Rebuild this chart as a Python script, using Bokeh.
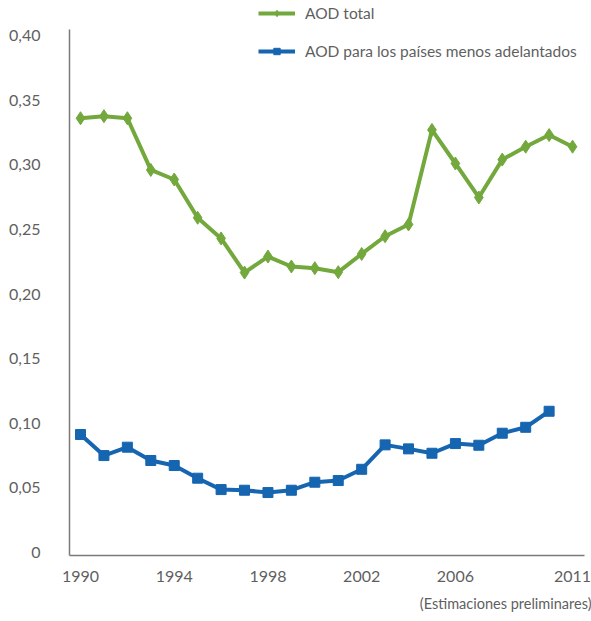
from bokeh.plotting import figure
from bokeh.models import (ColumnDataSource, FixedTicker, CustomJSTickFormatter,
                          Legend, LegendItem, Range1d, Title)
from bokeh.embed import file_html
from bokeh.resources import INLINE

years_total = list(range(1990, 2012))
aod_total = [0.336, 0.3376, 0.336, 0.296, 0.2886, 0.259, 0.243, 0.2166, 0.229, 0.2213,
             0.220, 0.2169, 0.231, 0.2447, 0.2538, 0.327, 0.301, 0.2747, 0.304, 0.314,
             0.323, 0.314]
years_pma = list(range(1990, 2011))
aod_pma = [0.0913, 0.075, 0.0815, 0.0712, 0.0673, 0.0575, 0.0487, 0.0482, 0.0464, 0.0482,
           0.0544, 0.0557, 0.0644, 0.0833, 0.0802, 0.0768, 0.0843, 0.083, 0.0923, 0.0969,
           0.1093]
x_ticks = [1990, 1994, 1998, 2002, 2006, 2011]
y_ticks = [0, 0.05, 0.1, 0.15, 0.2, 0.25, 0.3, 0.35, 0.4]
label_total = "AOD total"
label_pma = "AOD para los países menos adelantados"
note = "(Estimaciones preliminares)"

GREEN = "#72a83c"
BLUE = "#1565b0"
TXT = "#5f5f5f"
FONT = "Lato"

X0, X1 = 1989.53, 2011.51
Y0, Y1 = -0.0023, 0.4271

p = figure(width=591, height=621, output_backend="svg", toolbar_location=None,
           x_range=Range1d(X0, X1), y_range=Range1d(Y0, Y1),
           min_border_left=69, min_border_right=7, min_border_top=0, min_border_bottom=66)
p.outline_line_color = None
p.xgrid.visible = False
p.ygrid.visible = False

src_t = ColumnDataSource(dict(x=years_total, y=aod_total))
src_p = ColumnDataSource(dict(x=years_pma, y=aod_pma))

lt = p.line("x", "y", source=src_t, line_color=GREEN, line_width=4)
st = p.scatter("x", "y", source=src_t, marker="diamond", size=13, color=GREEN)
lp = p.line("x", "y", source=src_p, line_color=BLUE, line_width=4)
sp = p.scatter("x", "y", source=src_p, marker="square", size=10, color=BLUE)

for ax in (p.xaxis[0], p.yaxis[0]):
    ax.axis_line_color = "#7a7a7a"
    ax.axis_line_width = 1.5
    ax.major_tick_line_color = None
    ax.minor_tick_line_color = None
    ax.major_label_text_font = FONT
    ax.major_label_text_color = TXT
    ax.major_label_text_font_size = "16px"

p.xaxis[0].ticker = FixedTicker(ticks=x_ticks)
p.xaxis[0].major_label_standoff = 9
p.xaxis[0].bounds = (X0, X1)
p.yaxis[0].ticker = FixedTicker(ticks=y_ticks)
p.yaxis[0].major_label_standoff = 23
p.yaxis[0].bounds = (Y0, 0.4046)
p.yaxis[0].formatter = CustomJSTickFormatter(
    code='return tick == 0 ? "0" : tick.toFixed(2).replace(".", ",");')

legend = Legend(items=[LegendItem(label=label_total, renderers=[lt, st]),
                       LegendItem(label=label_pma, renderers=[lp, sp])],
                location=(189, 495), padding=0, margin=0, spacing=20,
                glyph_height=16, glyph_width=37, label_height=16, label_standoff=10,
                label_text_font=FONT, label_text_color=TXT, label_text_font_size="15.5px",
                border_line_color=None, background_fill_alpha=0)
p.add_layout(legend, "center")

p.add_layout(Title(text=note, align="right", text_font=FONT, text_color=TXT,
                   text_font_size="14.5px", text_font_style="normal", standoff=16,
                   offset=-7), "below")

open("out.html", "w").write(file_html(p, INLINE))
